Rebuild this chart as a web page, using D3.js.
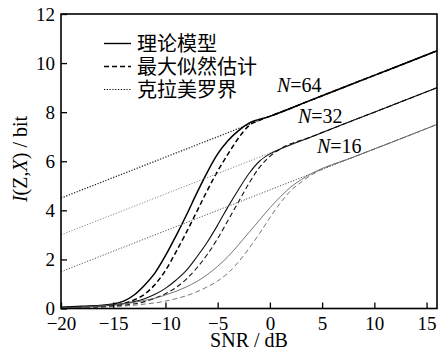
<!DOCTYPE html>
<html>
<head>
  <meta charset="UTF-8">
  <style>
    body { margin: 0; background-color: white; }
    svg { display: block; }
    .tick text { font-family: "Liberation Serif", serif; font-size: 19px; }
  </style>
</head>
<body>
<svg></svg>
<script src="https://d3js.org/d3.v7.min.js"></script>
<script>

let width = 438, height = 353;
let plotLeft = 61, plotRight = 437, plotTop = 14, plotBottom = 308.5;

// values: [SNR dB, I bit]
let theory64 = [[-20,0.05],[-18,0.09],[-16,0.13],[-15,0.18],[-14,0.3],[-13,0.55],[-12,0.95],[-11,1.45],[-10,2.15],[-9,2.95],[-8,3.8],[-7,4.7],[-6,5.55],[-5,6.3],[-4,6.85],[-3,7.25],[-2,7.55],[0,7.83],[4,8.5],[8,9.17],[12,9.83],[16,10.5]];
let mle64 = [[-20,0.03],[-16,0.09],[-14,0.2],[-13,0.35],[-12,0.58],[-11,0.98],[-10,1.55],[-9,2.3],[-8,3.1],[-7,3.95],[-6,4.8],[-5,5.6],[-4,6.3],[-3,6.95],[-2,7.45],[-1,7.67],[0,7.83],[4,8.5],[8,9.17],[12,9.83],[16,10.5]];
let crb64 = [[-20,4.5],[16,10.5]];

let theory32 = [[-20,0.04],[-17,0.08],[-15,0.14],[-13,0.28],[-12,0.4],[-11,0.58],[-10,0.82],[-9,1.15],[-8,1.55],[-7,2.1],[-6,2.7],[-5,3.4],[-4,4.15],[-3,4.85],[-2,5.5],[-1,6.0],[0,6.3],[1,6.5],[4,7.0],[8,7.67],[12,8.33],[16,9.0]];
let mle32 = [[-20,0.03],[-16,0.07],[-14,0.13],[-12,0.28],[-11,0.42],[-10,0.6],[-9,0.85],[-8,1.2],[-7,1.65],[-6,2.2],[-5,2.85],[-4,3.6],[-3,4.35],[-2,5.1],[-1,5.75],[0,6.2],[1,6.5],[4,7.0],[8,7.67],[12,8.33],[16,9.0]];
let crb32 = [[-20,3.0],[16,9.0]];

let theory16 = [[-20,0.03],[-17,0.08],[-15,0.15],[-13,0.25],[-12,0.33],[-11,0.42],[-10,0.55],[-9,0.7],[-8,0.88],[-7,1.1],[-6,1.38],[-5,1.72],[-4,2.12],[-3,2.6],[-2,3.1],[-1,3.6],[0,4.1],[1,4.55],[2,4.95],[3,5.25],[4,5.5],[8,6.17],[12,6.83],[16,7.5]];
let mle16 = [[-20,0.02],[-16,0.06],[-14,0.1],[-12,0.18],[-10,0.3],[-9,0.4],[-8,0.52],[-7,0.68],[-6,0.88],[-5,1.12],[-4,1.45],[-3,1.9],[-2,2.45],[-1,3.05],[0,3.7],[1,4.3],[2,4.8],[3,5.15],[4,5.45],[5,5.67],[8,6.17],[12,6.83],[16,7.5]];
let crb16 = [[-20,1.5],[16,7.5]];

let xTicks = [-20, -15, -10, -5, 0, 5, 10, 15];
let yTicks = [0, 2, 4, 6, 8, 10, 12];
let legendNames = ["理论模型", "最大似然估计", "克拉美罗界"];
let nLabels = [["64", 0.67, 8.82], ["32", 2.68, 7.56], ["16", 4.5, 6.34]];

let svg = d3.select("svg").attr("width", width).attr("height", height);

let x = d3.scaleLinear().domain([-20, 16]).range([plotLeft, plotRight]);
let y = d3.scaleLinear().domain([0, 12]).range([plotBottom, plotTop]);

let line = d3.line().x(d => x(d[0])).y(d => y(d[1])).curve(d3.curveMonotoneX);

// series styles: colour, width per N
let groups = [
  {color: "#000", w: 1.5, crbColor: "#222", crbW: 1.3, data: [theory64, mle64, crb64]},
  {color: "#111", w: 1.1, crbColor: "#888", crbW: 1.0, data: [theory32, mle32, crb32]},
  {color: "#666", w: 0.9, crbColor: "#555", crbW: 1.0, data: [theory16, mle16, crb16]}
];

let plot = svg.append("g");
groups.forEach(g => {
  plot.append("path").attr("d", line(g.data[2])).attr("fill", "none")
    .attr("stroke", g.crbColor).attr("stroke-width", g.crbW).attr("stroke-dasharray", "1.2,1.6");
  plot.append("path").attr("d", line(g.data[1])).attr("fill", "none")
    .attr("stroke", g.color).attr("stroke-width", g.w).attr("stroke-dasharray", "5,3");
  plot.append("path").attr("d", line(g.data[0])).attr("fill", "none")
    .attr("stroke", g.color).attr("stroke-width", g.w);
});

// axes with inward ticks
svg.append("g").attr("transform", "translate(0," + plotBottom + ")")
  .call(d3.axisBottom(x).tickValues(xTicks).tickSize(-6).tickPadding(8.5).tickFormat(d => d < 0 ? "\u2212" + Math.abs(d) : d))
  .call(g => g.select(".domain").remove())
  .call(g => g.selectAll(".tick line").attr("stroke", "#000").attr("stroke-width", 1.3))
  .call(g => g.selectAll(".tick text").attr("fill", "#000"));

svg.append("g").attr("transform", "translate(" + plotLeft + ",0)")
  .call(d3.axisLeft(y).tickValues(yTicks).tickSize(-6).tickPadding(6))
  .call(g => g.select(".domain").remove())
  .call(g => g.selectAll(".tick line").attr("stroke", "#000").attr("stroke-width", 1.3))
  .call(g => g.selectAll(".tick text").attr("fill", "#000"));

// frame
svg.append("rect").attr("x", plotLeft).attr("y", plotTop)
  .attr("width", plotRight - plotLeft).attr("height", plotBottom - plotTop)
  .attr("fill", "none").attr("stroke", "#000").attr("stroke-width", 1.6);

// axis titles
svg.append("text").attr("x", 249).attr("y", 347).attr("text-anchor", "middle")
  .style("font-family", "Liberation Serif").style("font-size", "20px").text("SNR / dB");

let yt = svg.append("text").attr("transform", "translate(27,159) rotate(-90)")
  .attr("text-anchor", "middle").style("font-family", "Liberation Serif").style("font-size", "20px");
yt.append("tspan").style("font-style", "italic").text("I");
yt.append("tspan").text("(Z,");
yt.append("tspan").style("font-style", "italic").text("X");
yt.append("tspan").text(") / bit");

// legend
let dashes = [null, "5,3", "1.2,1.6"];
legendNames.forEach((name, i) => {
  let ly = 43.5 + i * 23;
  svg.append("line").attr("x1", 104).attr("x2", 131).attr("y1", ly).attr("y2", ly)
    .attr("stroke", "#000").attr("stroke-width", i == 2 ? 1.2 : 1.4)
    .attr("stroke-dasharray", dashes[i]);
  svg.append("text").attr("x", 137).attr("y", ly + 7)
    .style("font-family", "Noto Sans CJK SC").style("font-size", "20px").text(name);
});

// N labels
nLabels.forEach(d => {
  let t = svg.append("text").attr("x", x(d[1])).attr("y", y(d[2]))
    .style("font-family", "Liberation Serif").style("font-size", "20px");
  t.append("tspan").style("font-style", "italic").text("N");
  t.append("tspan").text("=" + d[0]);
});

</script>
</body>
</html>
